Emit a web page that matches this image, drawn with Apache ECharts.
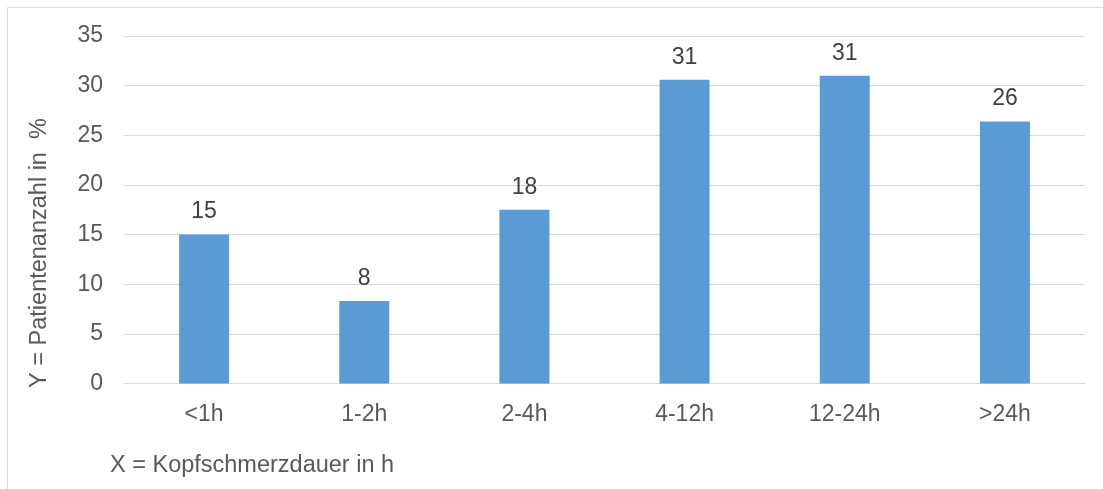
<!DOCTYPE html>
<html>
<head>
<meta charset="utf-8">
<style>
  html, body { margin: 0; padding: 0; background: #ffffff; }
  #chart { width: 1103px; height: 489px; }
</style>
<script src="https://cdn.jsdelivr.net/npm/echarts@6/dist/echarts.min.js"></script>
</head>
<body>
<div id="chart"></div>
<script>
// Headache duration categories and share of patients (%)
const categories = ['<1h', '1-2h', '2-4h', '4-12h', '12-24h', '>24h'];
const patientShare = [15.0, 8.3, 17.5, 30.6, 31.0, 26.4];
const yTicks = { min: 0, max: 35, interval: 5 };
const yTitle = 'Y = Patientenanzahl in  %';
const xTitle = 'X = Kopfschmerzdauer in h';

const FONT = '"Liberation Sans", Arial, sans-serif';
const FS = 23;
const chart = echarts.init(document.getElementById('chart'), null, { renderer: 'canvas' });

chart.setOption({
  animation: false,
  backgroundColor: '#ffffff',
  textStyle: { fontFamily: FONT },
  grid: { left: 124, right: 18, top: 36, bottom: 105.5, containLabel: false },
  xAxis: {
    type: 'category',
    data: categories,
    axisLine: { show: true, lineStyle: { color: '#D9D9D9', width: 1 } },
    axisTick: { show: false },
    axisLabel: { color: '#595959', fontSize: FS, fontFamily: FONT, margin: 20 }
  },
  yAxis: {
    type: 'value',
    min: yTicks.min,
    max: yTicks.max,
    interval: yTicks.interval,
    axisLine: { show: false },
    axisTick: { show: false },
    axisLabel: { color: '#595959', fontSize: FS, fontFamily: FONT, margin: 21 },
    splitLine: { show: true, lineStyle: { color: '#D9D9D9', width: 1 } }
  },
  series: [{
    type: 'bar',
    data: patientShare,
    barWidth: 50,
    itemStyle: { color: '#5B9BD5' },
    label: {
      show: true,
      position: 'top',
      distance: 11,
      color: '#404040',
      fontSize: FS,
      fontFamily: FONT,
      formatter: p => String(Math.round(p.value))
    }
  }],
  graphic: [
    {
      type: 'rect',
      silent: true,
      shape: { x: 7.5, y: 7.5, width: 1200, height: 600 },
      style: { fill: 'none', stroke: '#D9D9D9', lineWidth: 1 }
    },
    {
      type: 'text',
      silent: true,
      x: 40, y: 253,
      rotation: Math.PI / 2,
      style: {
        text: yTitle,
        fill: '#595959',
        font: '23.5px ' + FONT,
        textAlign: 'center',
        textVerticalAlign: 'middle'
      }
    },
    {
      type: 'text',
      silent: true,
      x: 110, y: 466,
      style: {
        text: xTitle,
        fill: '#595959',
        font: '23.5px ' + FONT,
        textAlign: 'left',
        textVerticalAlign: 'middle'
      }
    }
  ]
});
</script>
</body>
</html>
